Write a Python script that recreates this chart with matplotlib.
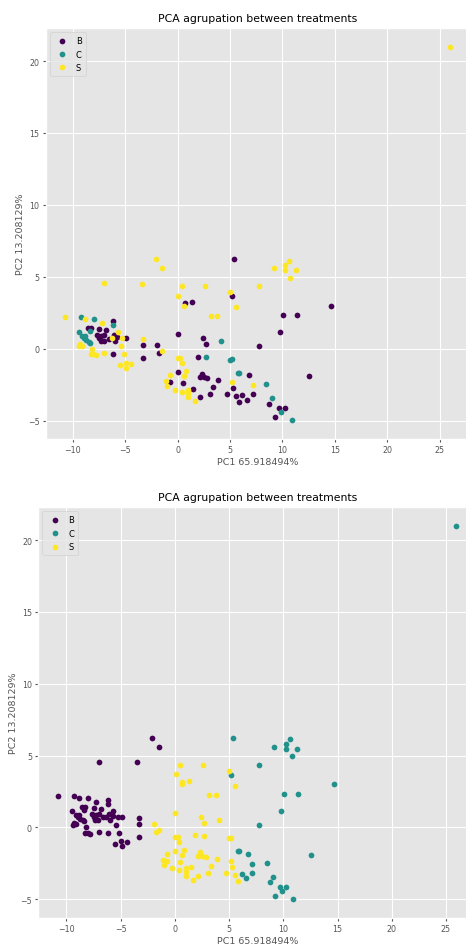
import numpy as np
import matplotlib
matplotlib.use("Agg")
import matplotlib.pyplot as plt

plt.style.use("ggplot")

# PCA scores (PC1, PC2), true treatment and cluster label
pc1 = [
    # left group
    -10.77, -9.28, -8.86, -8.00, -6.16, -6.16, -7.27, -8.55, -8.28, -8.38,
    -7.47, -6.86, -9.47, -9.10, -8.95, -8.75, -8.85, -8.50, -8.36, -7.66,
    -7.28, -7.02, -7.34, -7.08, -6.04, -5.75, -5.97, -6.32, -5.68, -5.28,
    -4.92, -3.31, -3.33, -3.33, -9.30, -9.15, -9.40, -8.20, -8.30, -8.05,
    -7.80, -7.02, -5.40, -5.15, -6.16, -5.55, -4.98, -4.42, -4.92, -7.02,
    -3.45, -2.10, -1.46, -6.60, -7.50,
    # middle group
    0.45, 2.60, 0.07, 0.64, 0.70, 1.34, 3.15, 3.78, 4.99, 5.56,
    -0.01, 2.41, 2.73, 4.10, -1.97, -1.74, -1.49, 0.03, 0.25, 1.90,
    2.70, 4.96, 5.15, 0.38, 0.00, 0.80, 0.64, -0.73, 2.29, 2.13,
    2.51, 2.83, 3.88, -1.08, -0.70, -0.98, 0.48, 1.50, 3.37, -0.28,
    0.38, 1.02, 1.02, 1.02, 1.65, 2.14, 3.05, 4.73, 5.15, 5.30,
    5.59, 5.85,
    # right group
    5.34, 5.15, 7.79, 10.65, 9.15, 10.23, 10.23, 11.28, 10.77, 14.68,
    10.04, 11.38, 9.79, 7.75, 5.78, 5.88, 6.77, 7.15, 7.15, 6.16,
    6.60, 8.45, 12.55, 9.02, 8.74, 9.72, 10.29, 9.85, 9.25, 10.87,
    25.96,
]
pc2 = [
    2.18, 2.22, 2.04, 2.06, 1.94, 1.66, 1.76, 1.46, 1.46, 1.25,
    1.37, 1.30, 1.18, 0.90, 0.75, 0.62, 0.85, 0.50, 0.42, 0.93,
    0.88, 0.93, 0.53, 0.51, 0.97, 0.83, 0.53, 0.76, 1.16, 0.76,
    0.74, 0.65, 0.23, -0.63, 0.30, 0.22, 0.20, 0.00, -0.40, -0.38,
    -0.42, -0.30, 0.19, -0.39, -0.39, -1.13, -0.97, -1.04, -1.32, 4.56,
    4.53, 6.22, 5.62, 0.70, 0.72,
    4.35, 4.37, 3.69, 3.00, 3.15, 3.26, 2.29, 2.29, 3.96, 2.89,
    1.04, 0.72, 0.34, 0.53, 0.27, -0.33, -0.16, -0.63, -0.63, -0.55,
    -0.60, -0.76, -0.74, -1.02, -1.62, -1.58, -1.92, -1.81, -1.74, -1.97,
    -1.97, -2.02, -2.16, -2.25, -2.32, -2.62, -2.41, -2.78, -2.67, -2.85,
    -2.99, -2.85, -3.10, -3.36, -3.64, -3.38, -3.16, -3.15, -2.30, -2.75,
    -3.31, -3.70,
    6.25, 3.63, 4.35, 6.13, 5.62, 5.79, 5.48, 5.46, 4.95, 3.00,
    2.31, 2.33, 1.18, 0.19, -1.67, -1.66, -1.85, -2.53, -3.15, -3.22,
    -3.54, -2.48, -1.90, -3.43, -3.82, -4.12, -4.12, -4.40, -4.75, -4.98,
    21.00,
]
treatment = list(
    "SCSCBCSBBC" "BBCCCCCCCB" "BBBBBBBSSS" "BSBBSSSSSS" "SSSSBSSSSS" "SSSBB"
    "SSSSBBSSSS" "BBBCBBSSSB" "CCCSBSSSBB" "BBBSBSBBBS" "SSSSSBBBSB" "BB"
    "BBSSSSSSSB" "BBBBCCBSBB" "BCBCBBBCBC" "S"
)
cluster = list(
    "BBBBBBBBBB" "BBBBBBBBBB" "BBBBBBBBBB" "BBBBBBBBBB" "BBBBBBBBBB" "BBBBB"
    "SSSSSSSSSS" "SSSSSSSSSS" "SSSSSSSSSS" "SSSSSSSSSS" "SSSSSSSSSS" "SS"
    "CCCCCCCCCC" "CCCCCCCCCC" "CCCCCCCCCC" "C"
)

groups = ["B", "C", "S"]
colors = ["#440154", "#21918c", "#fde725"]

x = np.array(pc1)
y = np.array(pc2)

fig = plt.figure(figsize=(4.66, 9.45), dpi=100)
ax1 = fig.add_axes([0.098, 0.5344, 0.908, 0.4349])
ax2 = fig.add_axes([0.082, 0.0278, 0.94, 0.4346])

for ax, labels in [(ax1, np.array(treatment)), (ax2, np.array(cluster))]:
    for g, c in zip(groups, colors):
        m = labels == g
        ax.scatter(x[m], y[m], c=c, s=17, label=g, linewidths=0)
    ax.set_title("PCA agrupation between treatments", fontsize=7.8, pad=5)
    ax.set_xlabel("PC1 65.918494%", fontsize=6.8, labelpad=2)
    ax.set_ylabel("PC2 13.208129%", fontsize=6.8, labelpad=2)
    ax.tick_params(labelsize=5.7, length=2.5, pad=2)
    ax.set_xticks([-10, -5, 0, 5, 10, 15, 20, 25])
    ax.set_yticks([-5, 0, 5, 10, 15, 20])
    ax.legend(loc="upper left", fontsize=6, markerscale=1.0,
              handletextpad=0.6, borderpad=0.5, labelspacing=0.5)

fig.savefig("out.png", dpi=100)
